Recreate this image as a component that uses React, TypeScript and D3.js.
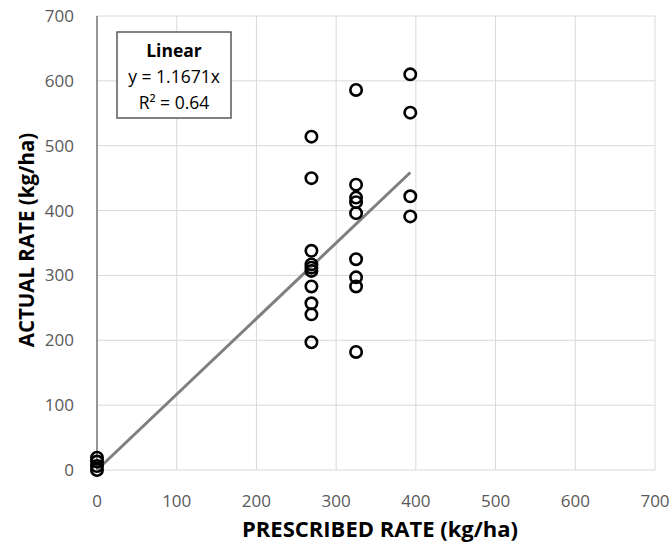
import React from "react";
import * as d3 from "d3";

const prescribed = [0, 0, 0, 0,
  269, 269, 269, 269, 269, 269, 269, 269, 269, 269,
  325, 325, 325, 325, 325, 325, 325, 325, 325,
  393, 393, 393, 393];
const actual = [19, 13, 6, 0,
  514, 450, 338, 317, 312, 307, 283, 257, 240, 197,
  586, 440, 420, 413, 396, 325, 297, 283, 182,
  610, 551, 422, 391];
const slope = 1.1671;
const xTicks = [0, 100, 200, 300, 400, 500, 600, 700];
const yTicks = [0, 100, 200, 300, 400, 500, 600, 700];
const legendLines = ["Linear", "y = 1.1671x", "R² = 0.64"];

export default function App() {
  const W = 672, H = 550;
  const x = d3.scaleLinear().domain([0, 700]).range([97, 655]);
  const y = d3.scaleLinear().domain([0, 700]).range([470, 16]);
  const font = "'Open Sans', sans-serif";
  const xMax = d3.max(prescribed) as number;
  const line = d3.line<number>().x((d) => x(d)).y((d) => y(d * slope));
  return (
    <svg width={W} height={H} style={{ position: "absolute", left: 0, top: 0 }}>
      <rect width={W} height={H} fill="#fff" />
      {xTicks.map((t) => (
        <line key={"gx" + t} x1={x(t)} x2={x(t)} y1={y(0)} y2={y(700)} stroke="#d9d9d9" strokeWidth={1} />
      ))}
      {yTicks.map((t) => (
        <line key={"gy" + t} x1={x(0)} x2={x(700)} y1={y(t)} y2={y(t)} stroke="#d9d9d9" strokeWidth={1} />
      ))}
      <line x1={x(0)} x2={x(0)} y1={y(0)} y2={y(700)} stroke="#404040" strokeWidth={1} />
      {xTicks.map((t) => (
        <text key={"tx" + t} x={x(t)} y={y(0) + 37} textAnchor="middle" fontFamily={font} fontSize={17} fill="#595959">{t}</text>
      ))}
      {yTicks.map((t) => (
        <text key={"ty" + t} x={x(0) - 23} y={y(t) + 6} textAnchor="end" fontFamily={font} fontSize={17} fill="#595959">{t}</text>
      ))}
      <path d={line([0, xMax]) || ""} stroke="#7f7f7f" strokeWidth={3} fill="none" />
      {prescribed.map((p, i) => (
        <circle key={i} cx={x(p)} cy={y(actual[i])} r={5.7} fill="none" stroke="#000" strokeWidth={2.6} />
      ))}
      <rect x={117} y={32} width={114} height={86} fill="#fff" stroke="#595959" strokeWidth={1.5} />
      {legendLines.map((s, i) => (
        <text key={s} x={174} y={57 + i * 26} textAnchor="middle" fontFamily={font} fontSize={17.5}
          fontWeight={i === 0 ? "bold" : "normal"} fill="#000">{s}</text>
      ))}
      <text x={380} y={537} textAnchor="middle" fontFamily={font} fontSize={22} fontWeight="bold" fill="#000">PRESCRIBED RATE (kg/ha)</text>
      <text transform={`translate(34,240) rotate(-90)`} textAnchor="middle" fontFamily={font} fontSize={20.5} fontWeight="bold" fill="#000">ACTUAL RATE (kg/ha)</text>
    </svg>
  );
}
